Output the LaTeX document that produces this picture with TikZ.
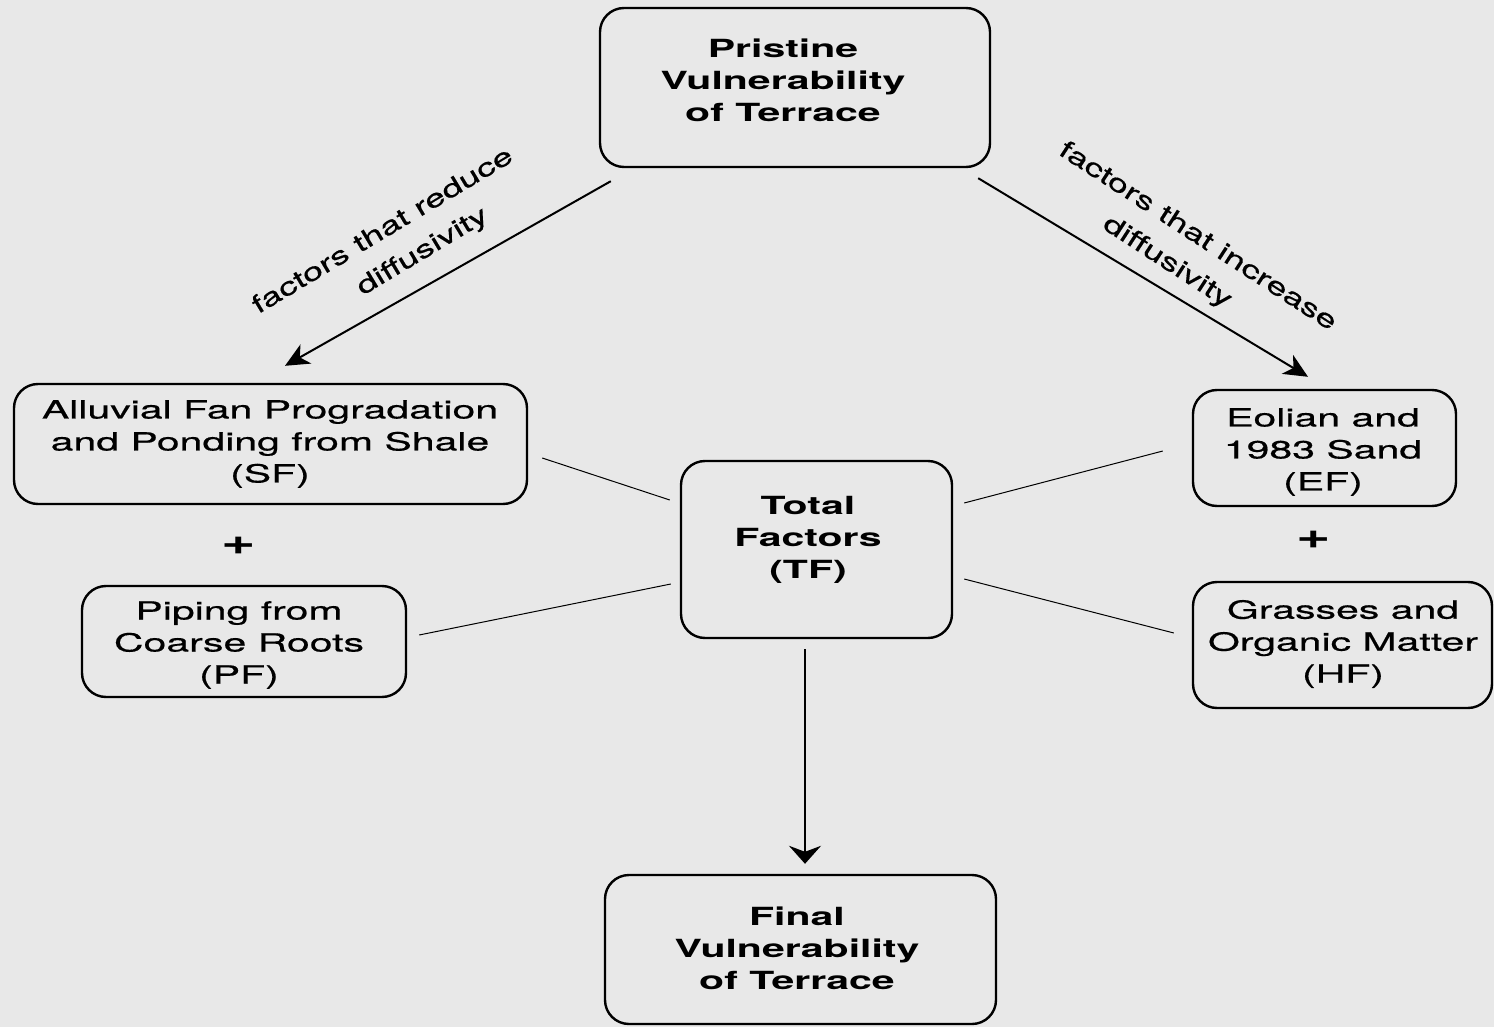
\documentclass[tikz,border=0pt]{standalone}
\usepackage{fontspec}
\setmainfont{TeX Gyre Heros}[FakeStretch=1.64, UprightFeatures={FakeBold=0.5}]
\newfontfamily\labfont{TeX Gyre Heros}[FakeStretch=1.45, FakeBold=0.5]
\usetikzlibrary{arrows.meta,calc}
\definecolor{bg}{RGB}{232,232,232}
\begin{document}
\begin{tikzpicture}[x=0.5pt,y=-0.5pt,
  box/.style={draw=black, line width=1.2pt, rounded corners=12pt, inner sep=0pt},
  btext/.style={align=center, inner sep=0pt, font=\fontsize{12.5}{16}\selectfont\bfseries},
  rtext/.style={align=center, inner sep=0pt, font=\fontsize{12.5}{16}\selectfont},
  ltext/.style={align=center, inner sep=0pt, font=\labfont\fontsize{12.5}{19}\selectfont},
  plussign/.style={inner sep=0pt, font=\fontsize{18}{18}\selectfont\bfseries},
  arr/.style={line width=1pt, -{Stealth[length=12pt,width=11pt,inset=3.5pt]}},
  darr/.style={line width=1pt, -{Stealth[length=9pt,width=16pt,inset=3pt]}},
  thin/.style={line width=0.5pt}
]
\path[fill=bg] (0,0) rectangle (1494,1027);

% boxes
\node[box, minimum width=195pt, minimum height=79.5pt] (p) at (795,87.5) {};
\node[box, minimum width=256.5pt, minimum height=60pt] (sf) at (270.5,444) {};
\node[box, minimum width=162pt, minimum height=55.5pt] (pf) at (244,641.5) {};
\node[box, minimum width=135.5pt, minimum height=88.5pt] (tf) at (816.5,549.5) {};
\node[box, minimum width=131.5pt, minimum height=58pt] (ef) at (1324.5,448) {};
\node[box, minimum width=149.5pt, minimum height=63pt] (hf) at (1342.5,645) {};
\node[box, minimum width=195.5pt, minimum height=74.5pt] (fin) at (800.5,949.5) {};

% texts
\node[btext] (pt) at (783,80) {Pristine\\Vulnerability\\of Terrace};
\node[rtext] (sft) at (270,444) {Alluvial Fan Progradation\\and Ponding from Shale\\(SF)};
\node[rtext] (pft) at (239,645) {Piping from\\Coarse Roots\\(PF)};
\node[btext] (tft) at (808,540) {Total\\Factors\\(TF)};
\node[rtext] (eft) at (1323,452) {Eolian and\\1983 Sand\\(EF)};
\node[rtext] (hft) at (1343,644) {Grasses and\\Organic Matter\\(HF)};
\node[btext] (fint) at (797,948) {Final\\Vulnerability\\of Terrace};

% plus signs
\node[plussign] (plus1) at (239,546) {+};
\node[plussign] (plus2) at (1314,540) {+};

% diagonal labels
\node[ltext, rotate=31] (lab1) at (393,248) {factors that reduce\\\rule{23.5pt}{0pt}diffusivity};
\node[ltext, rotate=-33] (lab2) at (1187,253) {factors that increase\\diffusivity\rule{11.5pt}{0pt}};

% arrows
\draw[arr] ([shift={(12,13)}]p.south west) -- ([shift={(14.5,-17)}]sf.north);
\draw[arr] ([shift={(-13,10)}]p.south east) -- ([shift={(-16.5,-12)}]ef.north);
\draw[darr] ([shift={(-11.5,10)}]tf.south) -- ([shift={(4.5,-10)}]fin.north);

% thin connectors
\draw[thin] ([shift={(14,14)}]sf.east) -- ([shift={(-10,-49.5)}]tf.west);
\draw[thin] ([shift={(12,-6.5)}]pf.east) -- ([shift={(-9,34.5)}]tf.west);
\draw[thin] ([shift={(11,-46.5)}]tf.east) -- ([shift={(-29,3)}]ef.west);
\draw[thin] ([shift={(11,29.5)}]tf.east) -- ([shift={(-18,-12)}]hf.west);
\end{tikzpicture}
\end{document}
